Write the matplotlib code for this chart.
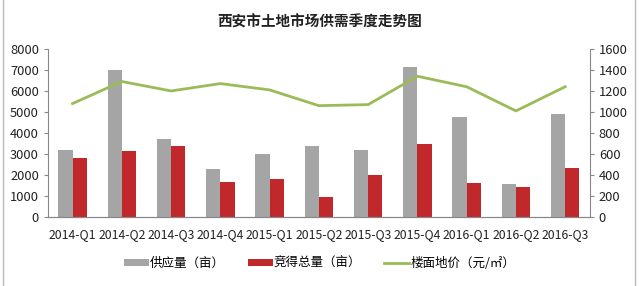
import matplotlib
matplotlib.use('Agg')
import matplotlib.pyplot as plt
import numpy as np

plt.rcParams['font.family'] = ['Noto Sans CJK SC', 'DejaVu Sans']

quarters = ['2014-Q1', '2014-Q2', '2014-Q3', '2014-Q4', '2015-Q1', '2015-Q2',
            '2015-Q3', '2015-Q4', '2016-Q1', '2016-Q2', '2016-Q3']
supply = [3200, 7000, 3700, 2300, 3000, 3400, 3200, 7150, 4750, 1550, 4900]
sold = [2800, 3150, 3400, 1650, 1800, 950, 2000, 3500, 1600, 1450, 2350]
price = [1080, 1290, 1200, 1270, 1210, 1060, 1070, 1340, 1240, 1010, 1240]

fig = plt.figure(figsize=(6.39, 2.86), dpi=100)
ax = fig.add_axes([0.075, 0.241, 0.848, 0.588])
ax2 = ax.twinx()

x = np.arange(len(quarters))
w = 0.29
b1 = ax.bar(x - w / 2, supply, w, color='#a5a5a5', zorder=2)
b2 = ax.bar(x + w / 2, sold, w, color='#c0282c', zorder=2)
l1, = ax2.plot(x, price, color='#9bbb59', lw=2)

ax.set_xlim(-0.5, len(quarters) - 0.5)
ax.set_ylim(0, 8000)
ax.set_yticks(np.arange(0, 8001, 1000))
ax2.set_ylim(0, 1600)
ax2.set_yticks(np.arange(0, 1601, 200))
ax.set_xticks(x)
ax.set_xticklabels(quarters)

for a in (ax, ax2):
    a.spines['top'].set_visible(False)
    for s in a.spines.values():
        s.set_color('#888888')
        s.set_linewidth(0.8)
    a.tick_params(labelsize=9.3, colors='#222222', length=3, color='#888888')
ax.tick_params(axis='x', length=0, pad=8, labelsize=8.8)
ax.spines['right'].set_visible(False)
ax2.spines['left'].set_visible(False)

fig.text(0.5, 0.925, '西安市土地市场供需季度走势图', ha='center', va='center',
         fontsize=10.5, fontweight='bold', color='#222222')

fig.legend([b1, b2, l1], ['供应量（亩）', '竞得总量（亩）', '楼面地价（元/㎡）'],
           loc='center', bbox_to_anchor=(0.5, 0.078), ncol=3, frameon=False,
           fontsize=9, handlelength=2.0, handleheight=0.45, columnspacing=1.8,
           handletextpad=0.1)

fig.add_artist(plt.Line2D([0.004, 0.004], [0, 1], color='#bbbbbb', lw=1))
fig.add_artist(plt.Line2D([0.994, 0.994], [0, 1], color='#bbbbbb', lw=1))

fig.savefig('out.png', dpi=100)
